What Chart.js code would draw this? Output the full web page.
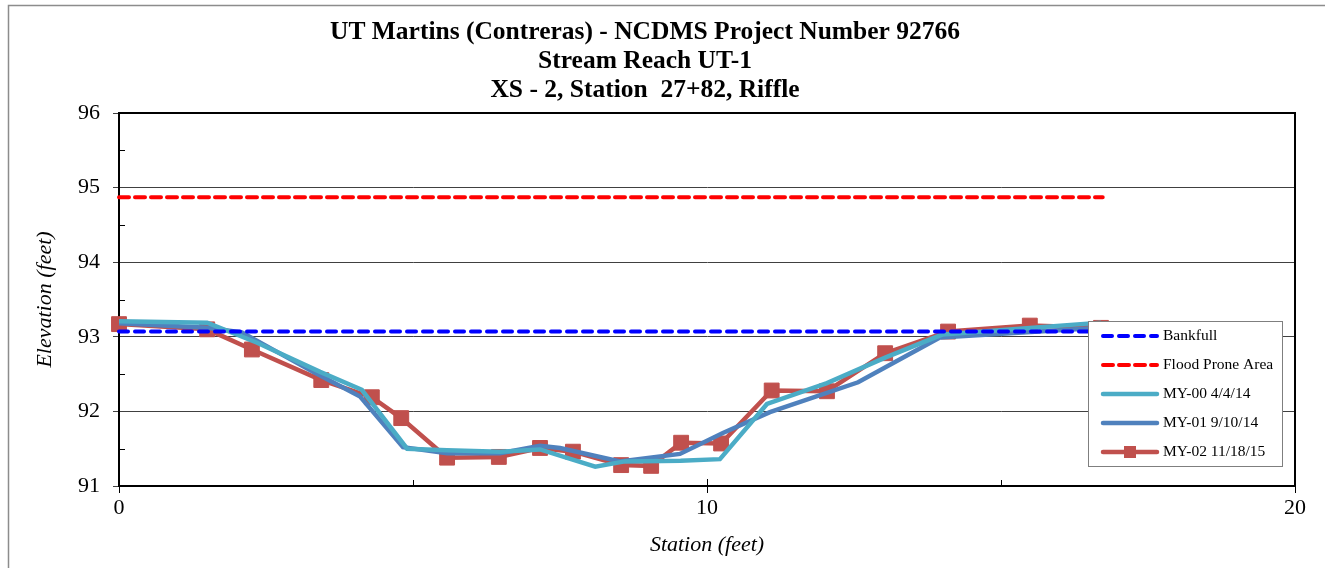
<!DOCTYPE html>
<html>
<head>
<meta charset="utf-8">
<script src="https://cdn.jsdelivr.net/npm/chart.js@4.4.1/dist/chart.umd.min.js"></script>
<style>
  body { margin: 0; background: #fff; }
  canvas { display: block; }
</style>
</head>
<body>
<canvas id="xsChart" width="1325" height="568"></canvas>
<script>
// Cross-section survey data (station ft, elevation ft)
const titleLines = ['UT Martins (Contreras) - NCDMS Project Number 92766', 'Stream Reach UT-1', 'XS - 2, Station  27+82, Riffle'];
const seriesNames = ['Bankfull', 'Flood Prone Area', 'MY-00 4/4/14', 'MY-01 9/10/14', 'MY-02 11/18/15'];

const bankfullX = [0, 16.7];
const bankfullY = [93.07, 93.07];
const floodX = [0, 16.73];
const floodY = [94.87, 94.87];

const my00X = [0, 1.5, 2.35, 3.42, 4.13, 4.9, 5.58, 6.48, 7.16, 8.1, 8.6, 9.55, 10.22, 11.02, 12.04, 13.03, 14.0, 16.7];
const my00Y = [93.21, 93.19, 92.92, 92.53, 92.29, 91.5, 91.48, 91.46, 91.49, 91.26, 91.33, 91.34, 91.36, 92.1, 92.38, 92.72, 93.03, 93.19];

const my01X = [0, 1.5, 2.09, 3.3, 4.1, 4.83, 5.58, 6.48, 7.16, 7.5, 8.52, 9.54, 10.27, 11.07, 12.57, 13.96, 16.7];
const my01Y = [93.18, 93.12, 93.06, 92.53, 92.2, 91.52, 91.44, 91.44, 91.54, 91.51, 91.33, 91.43, 91.71, 91.99, 92.39, 92.99, 93.12];

const my02X = [0, 1.5, 2.26, 3.44, 4.3, 4.8, 5.58, 6.46, 7.16, 7.72, 8.54, 9.05, 9.56, 10.24, 11.1, 12.04, 13.03, 14.1, 15.49, 16.7];
const my02Y = [93.17, 93.1, 92.83, 92.42, 92.19, 91.91, 91.38, 91.39, 91.51, 91.46, 91.28, 91.27, 91.58, 91.57, 92.28, 92.27, 92.78, 93.07, 93.15, 93.12];

const pts = (xs, ys) => xs.map((x, i) => ({ x: x, y: ys[i] }));
const serif = "'Liberation Serif', 'Times New Roman', serif";

// frame, minor ticks, title and legend drawn by hand
const excelLook = {
    id: 'excelLook',
    beforeDraw(chart) {
        const ctx = chart.ctx;
        ctx.save();
        ctx.strokeStyle = '#8c8c8c';
        ctx.lineWidth = 1.5;
        ctx.beginPath();
        ctx.moveTo(8.5, 568);
        ctx.lineTo(8.5, 5.5);
        ctx.lineTo(1325, 5.5);
        ctx.stroke();

        ctx.fillStyle = '#000';
        ctx.font = 'bold 25.5px ' + serif;
        ctx.textAlign = 'center';
        ctx.textBaseline = 'middle';
        titleLines.forEach((t, i) => ctx.fillText(t, 645, 32 + i * 29));
        ctx.restore();
    },
    beforeDatasetsDraw(chart) {
        const { ctx, chartArea: a, scales } = chart;
        ctx.save();
        ctx.strokeStyle = '#000';
        ctx.lineWidth = 2;
        ctx.beginPath();
        ctx.moveTo(a.left, a.top);
        ctx.lineTo(a.right, a.top);
        ctx.lineTo(a.right, a.bottom);
        ctx.stroke();

        ctx.lineWidth = 1;
        ctx.beginPath();
        [91.5, 92.5, 93.5, 94.5, 95.5].forEach(v => {
            const y = Math.round(scales.y.getPixelForValue(v)) + 0.5;
            ctx.moveTo(a.left, y);
            ctx.lineTo(a.left + 6, y);
        });
        [5, 15].forEach(v => {
            const x = Math.round(scales.x.getPixelForValue(v)) + 0.5;
            ctx.moveTo(x, a.bottom);
            ctx.lineTo(x, a.bottom - 6);
        });
        [10].forEach(v => {
            const x = Math.round(scales.x.getPixelForValue(v)) + 0.5;
            ctx.moveTo(x, a.bottom);
            ctx.lineTo(x, a.bottom - 7);
        });
        ctx.stroke();
        ctx.restore();
    },
    afterDraw(chart) {
        const ctx = chart.ctx;
        const box = { left: 1088, top: 321, right: 1282, bottom: 466 };
        ctx.save();
        ctx.fillStyle = '#fff';
        ctx.strokeStyle = '#7f7f7f';
        ctx.lineWidth = 1;
        ctx.fillRect(box.left, box.top, box.right - box.left, box.bottom - box.top);
        ctx.strokeRect(box.left + 0.5, box.top + 0.5, box.right - box.left, box.bottom - box.top);

        chart.data.datasets.forEach((ds, i) => {
            const y = 336 + i * 29;
            ctx.strokeStyle = ds.borderColor;
            ctx.lineWidth = ds.borderWidth;
            ctx.lineCap = ds.borderCapStyle || 'round';
            ctx.setLineDash(ds.borderDash || []);
            ctx.beginPath();
            ctx.moveTo(1103, y);
            ctx.lineTo(1157, y);
            ctx.stroke();
            ctx.setLineDash([]);
            if (ds.pointRadius > 0) {
                ctx.fillStyle = ds.pointBackgroundColor;
                ctx.fillRect(1124, y - 6, 12, 12);
            }
            ctx.fillStyle = '#000';
            ctx.font = '15.5px ' + serif;
            ctx.textAlign = 'left';
            ctx.textBaseline = 'middle';
            ctx.fillText(ds.label, 1163, y);
        });
        ctx.restore();
    }
};

new Chart(document.getElementById('xsChart'), {
    type: 'line',
    data: {
        datasets: [
            {
                label: seriesNames[0],
                data: pts(bankfullX, bankfullY),
                borderColor: '#0000ff',
                borderWidth: 4,
                borderDash: [9, 7],
                borderCapStyle: 'round',
                pointRadius: 0
            },
            {
                label: seriesNames[1],
                data: pts(floodX, floodY),
                borderColor: '#ff0000',
                borderWidth: 4,
                borderDash: [10, 6],
                borderCapStyle: 'round',
                pointRadius: 0
            },
            {
                label: seriesNames[2],
                data: pts(my00X, my00Y),
                borderColor: '#4bacc6',
                borderWidth: 4.5,
                pointRadius: 0
            },
            {
                label: seriesNames[3],
                data: pts(my01X, my01Y),
                borderColor: '#4f81bd',
                borderWidth: 4.5,
                pointRadius: 0
            },
            {
                label: seriesNames[4],
                data: pts(my02X, my02Y),
                borderColor: '#c0504d',
                borderWidth: 4.5,
                pointStyle: 'rect',
                pointRadius: 10.5,
                pointBackgroundColor: '#c0504d',
                pointBorderColor: '#c0504d',
                pointBorderWidth: 1
            }
        ]
    },
    options: {
        responsive: false,
        animation: false,
        clip: false,
        layout: { padding: { top: 113, right: 30, left: 0, bottom: 0 } },
        plugins: {
            legend: { display: false },
            title: { display: false },
            tooltip: { enabled: false }
        },
        elements: { line: { tension: 0 } },
        scales: {
            x: {
                type: 'linear',
                min: 0,
                max: 20,
                ticks: { stepSize: 10, color: '#000', font: { family: serif, size: 22 }, padding: 2, maxRotation: 0 },
                grid: { drawOnChartArea: false, tickLength: 7, color: '#000' },
                border: { color: '#000', width: 2 },
                title: {
                    display: true,
                    text: 'Station (feet)',
                    color: '#000',
                    font: { family: serif, size: 22, style: 'italic' },
                    padding: { top: 0, bottom: 10 }
                },
                afterFit: s => { s.height = 82; }
            },
            y: {
                min: 91,
                max: 96,
                ticks: { stepSize: 1, color: '#000', font: { family: serif, size: 22 }, padding: 13 },
                grid: { color: '#404040', lineWidth: 1, tickLength: 6 },
                border: { color: '#000', width: 2 },
                title: {
                    display: true,
                    text: 'Elevation (feet)',
                    color: '#000',
                    font: { family: serif, size: 22, style: 'italic' },
                    padding: { top: 32, bottom: 0 }
                },
                afterFit: s => { s.width = 119; }
            }
        }
    },
    plugins: [excelLook]
});
</script>
</body>
</html>
